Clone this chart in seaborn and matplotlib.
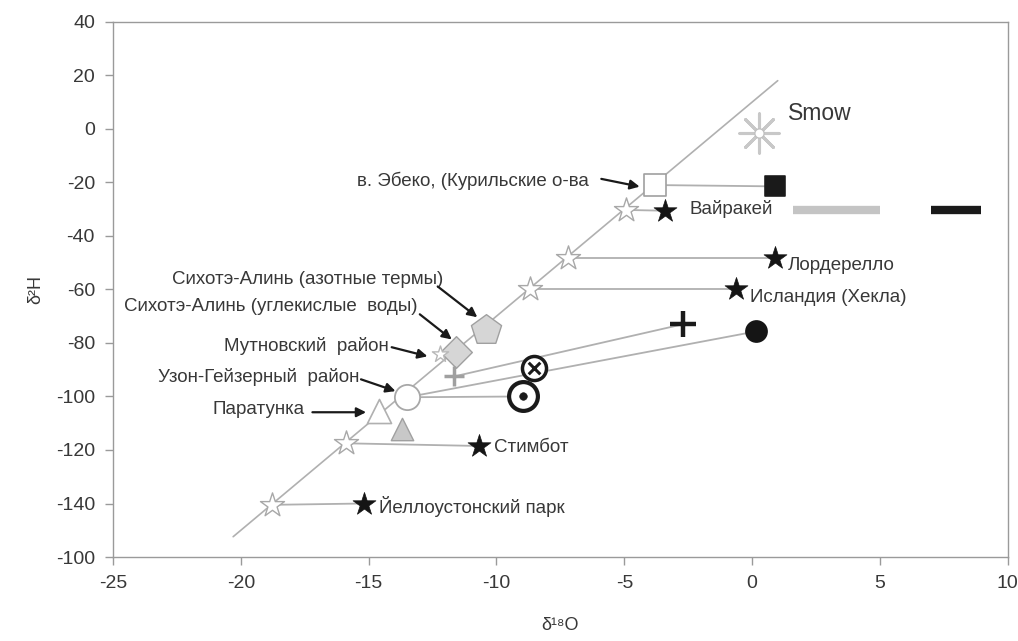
import numpy as np
import pandas as pd
import seaborn as sns
import matplotlib.pyplot as plt

# Линия метеорных вод (GMWL)
gmwl_x = [-20.3, 1.0]
gmwl_y = [-152.4, 18.0]

# Открытые звёзды (на линии) -> заполненные звёзды (сдвиг по кислороду)
star_names = ["Йеллоустонский парк", "Стимбот", "Исландия (Хекла)", "Лордерелло", "Вайракей"]
star_open_x = [-18.8, -15.9, -8.7, -7.2, -4.95]
star_open_y = [-140.5, -117.5, -60.0, -48.3, -30.3]
star_fill_x = [-15.2, -10.7, -0.65, 0.9, -3.4]
star_fill_y = [-140.0, -118.5, -60.0, -48.3, -30.6]

# в. Эбеко
sq_open = (-3.8, -21.0)
sq_fill = (0.9, -21.5)

smow = (0.25, -1.5)

# Сихотэ-Алинь, Мутновский, Узон, Паратунка
pent = (-10.4, -75.3)
diam = (-11.6, -83.5)
mutn = (-12.2, -84.0)
plus_gray = (-11.65, -92.5)
uzon = (-13.5, -100.3)
parat = (-14.6, -105.5)
tri_gray = (-13.7, -112.0)

plus_black = (-2.7, -73.0)
circ_black = (0.15, -75.7)
circ_x = (-8.55, -89.2)
circ_dot = (-8.95, -100.0)

# полосы справа
bar_gray_x = [1.6, 5.0]
bar_black_x = [7.0, 8.95]
bar_y = -30.5

ytick_vals = [40, 20, 0, -20, -40, -60, -80, -100, -120, -140, -160]
ytick_labels = ["40", "20", "0", "-20", "-40", "-60", "-80", "-100", "-120", "-140", "-100"]
xtick_vals = [-25, -20, -15, -10, -5, 0, 5, 10]

sns.set_style("ticks")
plt.rcParams['font.family'] = ['Liberation Sans', 'DejaVu Sans']

fig = plt.figure(figsize=(10.18, 6.41), dpi=100)
ax = fig.add_axes([0.111, 0.131, 0.879, 0.835])

lc = "#b0b0b0"
sns.lineplot(x=gmwl_x, y=gmwl_y, color=lc, lw=1.2, ax=ax)

# соединительные линии
for i in range(len(star_names)):
    ax.plot([star_open_x[i], star_fill_x[i]], [star_open_y[i], star_fill_y[i]], color=lc, lw=1.3, zorder=1)
ax.plot([sq_open[0], sq_fill[0]], [sq_open[1], sq_fill[1]], color=lc, lw=1.3, zorder=1)
ax.plot([plus_black[0], plus_gray[0]], [plus_black[1], plus_gray[1]], color=lc, lw=1.3, zorder=1)
ax.plot([circ_black[0], uzon[0]], [circ_black[1], uzon[1]], color=lc, lw=1.3, zorder=1)
ax.plot([circ_dot[0], uzon[0]], [circ_dot[1], uzon[1]], color=lc, lw=1.3, zorder=1)

ax.plot(bar_gray_x, [bar_y, bar_y], color="#c4c4c4", lw=6, solid_capstyle="butt")
ax.plot(bar_black_x, [bar_y, bar_y], color="#1a1a1a", lw=6, solid_capstyle="butt")

# звёзды
sns.scatterplot(x=star_open_x, y=star_open_y, marker="*", s=330, color="white",
                edgecolor="#a8a8a8", linewidth=1.0, ax=ax, zorder=3)
sns.scatterplot(x=star_fill_x, y=star_fill_y, marker="*", s=300, color="#151515",
                edgecolor="#151515", linewidth=0.5, ax=ax, zorder=3)

sns.scatterplot(x=[sq_open[0]], y=[sq_open[1]], marker="s", s=230, color="white",
                edgecolor="#a0a0a0", linewidth=1.2, ax=ax, zorder=3)
sns.scatterplot(x=[sq_fill[0]], y=[sq_fill[1]], marker="s", s=210, color="#1a1a1a",
                edgecolor="#1a1a1a", ax=ax, zorder=3)

# Smow
sns.scatterplot(x=[smow[0]], y=[smow[1]], marker=(8, 2, 0), s=800, color="#c8c8c8",
                linewidth=2.2, ax=ax, zorder=3)
sns.scatterplot(x=[smow[0]], y=[smow[1]], marker="o", s=45, color="white",
                edgecolor="#c0c0c0", linewidth=1, ax=ax, zorder=4)

gray_fill = "#d6d6d6"
gray_edge = "#a0a0a0"
sns.scatterplot(x=[pent[0]], y=[pent[1]], marker="p", s=520, color=gray_fill,
                edgecolor=gray_edge, linewidth=1, ax=ax, zorder=3)
sns.scatterplot(x=[diam[0]], y=[diam[1]], marker="D", s=260, color=gray_fill,
                edgecolor=gray_edge, linewidth=1, ax=ax, zorder=3)
sns.scatterplot(x=[mutn[0]], y=[mutn[1]], marker="*", s=150, color="white",
                edgecolor="#b8b8b8", linewidth=1, ax=ax, zorder=4)
sns.scatterplot(x=[plus_gray[0]], y=[plus_gray[1]], marker="+", s=220, color="#a0a0a0",
                linewidth=2.5, ax=ax, zorder=3)
sns.scatterplot(x=[uzon[0]], y=[uzon[1]], marker="o", s=330, color="white",
                edgecolor="#a8a8a8", linewidth=1.3, ax=ax, zorder=3)
sns.scatterplot(x=[parat[0]], y=[parat[1]], marker="^", s=300, color="white",
                edgecolor="#b0b0b0", linewidth=1.2, ax=ax, zorder=3)
sns.scatterplot(x=[tri_gray[0]], y=[tri_gray[1]], marker="^", s=260, color="#c8c8c8",
                edgecolor="#a0a0a0", linewidth=1, ax=ax, zorder=3)

sns.scatterplot(x=[plus_black[0]], y=[plus_black[1]], marker="+", s=330, color="#1a1a1a",
                linewidth=3.2, ax=ax, zorder=3)
sns.scatterplot(x=[circ_black[0]], y=[circ_black[1]], marker="o", s=230, color="#151515",
                edgecolor="#151515", ax=ax, zorder=3)
sns.scatterplot(x=[circ_x[0]], y=[circ_x[1]], marker="o", s=300, color="white",
                edgecolor="#1a1a1a", linewidth=2.5, ax=ax, zorder=3)
sns.scatterplot(x=[circ_x[0]], y=[circ_x[1]], marker="x", s=70, color="#1a1a1a",
                linewidth=2.2, ax=ax, zorder=4)
sns.scatterplot(x=[circ_dot[0]], y=[circ_dot[1]], marker="o", s=430, color="white",
                edgecolor="#1a1a1a", linewidth=3, ax=ax, zorder=3)
sns.scatterplot(x=[circ_dot[0]], y=[circ_dot[1]], marker="o", s=30, color="#1a1a1a",
                edgecolor="#1a1a1a", ax=ax, zorder=4)

tc = "#383838"
fs = 13.5
# подписи звёзд
ax.text(-2.45, -30.1, "Вайракей", fontsize=fs, color=tc, va="center")
ax.text(1.4, -51.0, "Лордерелло", fontsize=fs, color=tc, va="center")
ax.text(-0.1, -63.0, "Исландия (Хекла)", fontsize=fs, color=tc, va="center")
ax.text(-10.1, -119.0, "Стимбот", fontsize=fs, color=tc, va="center")
ax.text(-14.6, -141.3, "Йеллоустонский парк", fontsize=fs, color=tc, va="center")
ax.text(1.4, 5.7, "Smow", fontsize=16.5, color=tc, va="center")

# подписи со стрелками
arrows = [
    ("в. Эбеко, (Курильские о-ва", (-6.4, -19.3), (-5.9, -18.7), (-4.4, -21.6)),
    ("Сихотэ-Алинь (азотные термы)", (-12.1, -56.3), (-12.3, -58.9), (-10.75, -70.4)),
    ("Сихотэ-Алинь (углекислые  воды)", (-13.1, -66.3), (-13.0, -69.3), (-11.75, -78.7)),
    ("Мутновский  район", (-14.2, -81.3), (-14.1, -81.6), (-12.7, -85.0)),
    ("Узон-Гейзерный  район", (-15.35, -92.8), (-15.3, -93.6), (-13.95, -98.0)),
    ("Паратунка", (-17.5, -104.8), (-17.2, -105.9), (-15.1, -105.9)),
]
for label, tpos, a0, a1 in arrows:
    ax.text(tpos[0], tpos[1], label, fontsize=fs, color=tc, ha="right", va="center")
    ax.annotate("", xy=a1, xytext=a0,
                arrowprops=dict(arrowstyle="-|>", color="#1a1a1a", lw=1.6,
                                mutation_scale=14, shrinkA=0, shrinkB=0))

ax.set_xlim(-25, 10)
ax.set_ylim(-160, 40)
ax.set_xticks(xtick_vals)
ax.set_xticklabels([str(v) for v in xtick_vals])
ax.set_yticks(ytick_vals)
ax.set_yticklabels(ytick_labels)
for s in ax.spines.values():
    s.set_color("#9a9a9a")
    s.set_linewidth(1.0)
ax.tick_params(colors="#9a9a9a", labelcolor=tc, labelsize=14, length=6, width=1, pad=7)
ax.set_xlabel("δ¹⁸O", fontsize=13, color=tc, labelpad=18)
ax.set_ylabel("δ²H", fontsize=13, color=tc, labelpad=8)

fig.savefig("out.png", dpi=100)
